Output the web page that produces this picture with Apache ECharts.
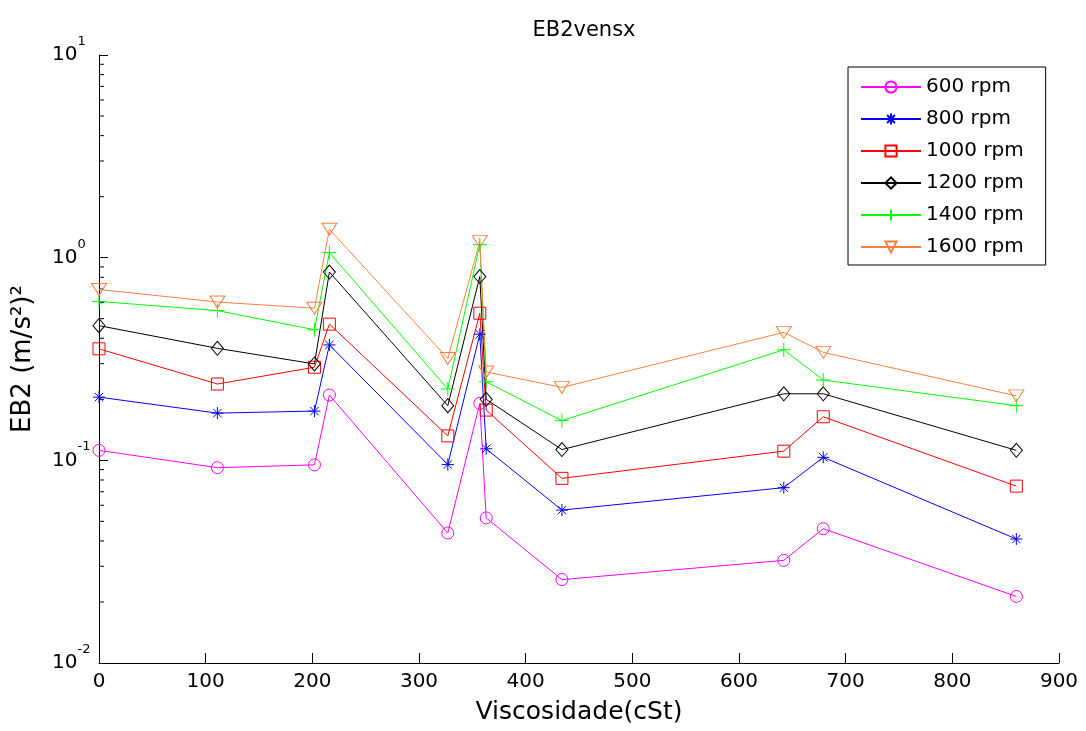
<!DOCTYPE html>
<html lang="pt">
<head>
    <meta charset="UTF-8">
    <title>EB2vensx</title>
    <script src="https://cdn.jsdelivr.net/npm/echarts@6.0.0/dist/echarts.min.js"></script>
    <style>
        body {
            margin: 0;
            background-color: #fff;
        }

        #chart {
            width: 1086px;
            height: 731px;
        }
    </style>
</head>
<body>
    <div id="chart"></div>

    <script>
        // viscosidade (cSt)
        const visc = [0, 111, 202, 216, 327, 357, 363, 434, 642, 679, 860];

        const rpm600 = [0.112, 0.092, 0.095, 0.21, 0.0438, 0.191, 0.052, 0.0258, 0.0321, 0.046, 0.0213];
        const rpm800 = [0.205, 0.171, 0.175, 0.371, 0.0953, 0.419, 0.114, 0.0568, 0.0733, 0.1035, 0.0409];
        const rpm1000 = [0.355, 0.238, 0.288, 0.47, 0.132, 0.532, 0.177, 0.0815, 0.111, 0.164, 0.0746];
        const rpm1200 = [0.462, 0.357, 0.299, 0.849, 0.186, 0.807, 0.2, 0.113, 0.213, 0.213, 0.112];
        const rpm1400 = [0.608, 0.548, 0.441, 1.06, 0.225, 1.16, 0.244, 0.157, 0.351, 0.249, 0.186];
        const rpm1600 = [0.697, 0.604, 0.563, 1.38, 0.318, 1.2, 0.273, 0.229, 0.428, 0.341, 0.208];

        const names = ['600 rpm', '800 rpm', '1000 rpm', '1200 rpm', '1400 rpm', '1600 rpm'];

        // minor ticks of the log axis
        const minorTicks = [];
        [0.01, 0.1, 1].forEach(function (d) {
            for (let k = 2; k <= 9; k++) minorTicks.push(k * d);
        });

        const font = 'DejaVu Sans';

        function makeLine(name, values, color, symbol, size) {
            return {
                name: name,
                type: 'line',
                data: visc.map((x, i) => [x, values[i]]),
                symbol: symbol,
                symbolSize: size,
                symbolKeepAspect: false,
                lineStyle: { color: color, width: 1 },
                itemStyle: { color: 'transparent', borderColor: color, borderWidth: 1 },
                emphasis: { disabled: true }
            };
        }

        const chart = echarts.init(document.getElementById('chart'));

        const option = {
            animation: false,
            title: {
                text: 'EB2vensx',
                left: 579,
                top: 15,
                textAlign: 'center',
                textStyle: { fontFamily: font, fontSize: 21, fontWeight: 'normal', color: '#000' }
            },
            legend: {
                data: names,
                orient: 'vertical',
                left: 848,
                top: 67,
                itemWidth: 60,
                itemHeight: 14,
                itemGap: 12,
                padding: [10, 22, 8, 12],
                borderColor: '#000',
                borderWidth: 1,
                selectedMode: false,
                textStyle: { fontFamily: font, fontSize: 20, color: '#000', lineHeight: 19 }
            },
            grid: {
                left: 99,
                right: 27,
                top: 55,
                bottom: 68,
                outerBoundsMode: 'none'
            },
            xAxis: {
                type: 'value',
                min: 0,
                max: 900,
                interval: 100,
                name: 'Viscosidade(cSt)',
                nameLocation: 'middle',
                nameGap: 37,
                nameTextStyle: { fontFamily: font, fontSize: 25, color: '#000' },
                axisLine: { lineStyle: { color: '#000', width: 1 } },
                axisTick: { inside: true, length: 10, lineStyle: { color: '#000' } },
                axisLabel: { fontFamily: font, fontSize: 20, color: '#000', margin: 9 },
                splitLine: { show: false }
            },
            yAxis: {
                type: 'log',
                logBase: 10,
                min: 0.01,
                max: 10,
                name: 'EB2 (m/s²)²',
                nameLocation: 'middle',
                nameGap: 63,
                nameTextStyle: { fontFamily: font, fontSize: 26, color: '#000' },
                axisLine: { show: true, lineStyle: { color: '#000', width: 1 } },
                axisTick: { inside: true, length: 9, lineStyle: { color: '#000' } },
                axisLabel: {
                    align: 'left',
                    margin: 47,
                    formatter: function (v) {
                        const e = Math.round(Math.log10(v));
                        return '{b|10}{s|' + e + '}';
                    },
                    rich: {
                        b: { fontFamily: font, fontSize: 20, color: '#000', lineHeight: 20 },
                        s: { fontFamily: font, fontSize: 13, color: '#000', lineHeight: 40, verticalAlign: 'top' }
                    }
                },
                splitLine: { show: false }
            },
            series: [
                makeLine(names[0], rpm600, '#FF00FF', 'circle', 12),
                makeLine(names[1], rpm800, '#0000FF', 'path://M5,0V10M0,5H10M1.5,1.5L8.5,8.5M8.5,1.5L1.5,8.5', 12),
                makeLine(names[2], rpm1000, '#FF0000', 'rect', 12),
                makeLine(names[3], rpm1200, '#000000', 'diamond', [12, 14]),
                makeLine(names[4], rpm1400, '#00FF00', 'path://M5,0V10M0,5H10', 14),
                makeLine(names[5], rpm1600, '#FF7F3F', 'path://M0,0L10,0L5,8.5Z', [15, 12]),
                {
                    type: 'custom',
                    silent: true,
                    data: minorTicks.map(v => [0, v]),
                    renderItem: function (params, api) {
                        const p = api.coord([api.value(0), api.value(1)]);
                        return {
                            type: 'line',
                            shape: { x1: p[0], y1: p[1], x2: p[0] + 5, y2: p[1] },
                            style: { stroke: '#000', lineWidth: 1 }
                        };
                    }
                }
            ]
        };

        chart.setOption(option);
    </script>
</body>
</html>
